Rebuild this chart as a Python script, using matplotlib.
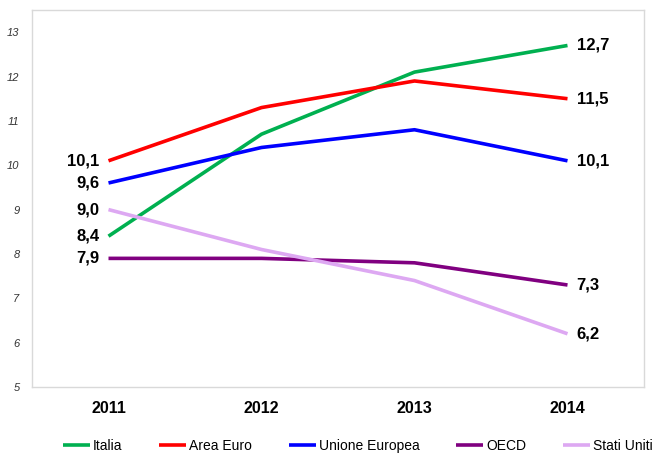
import matplotlib
matplotlib.use("Agg")
import matplotlib.pyplot as plt

plt.rcParams['font.family'] = ['Liberation Sans', 'DejaVu Sans']

years = ['2011', '2012', '2013', '2014']
italia = [8.4, 10.7, 12.1, 12.7]
area_euro = [10.1, 11.3, 11.9, 11.5]
unione_europea = [9.6, 10.4, 10.8, 10.1]
oecd = [7.9, 7.9, 7.8, 7.3]
stati_uniti = [9.0, 8.1, 7.4, 6.2]

series = [
    ('Italia', italia, '#00B050'),
    ('Area Euro', area_euro, '#FF0000'),
    ('Unione Europea', unione_europea, '#0000FF'),
    ('OECD', oecd, '#800080'),
    ('Stati Uniti', stati_uniti, '#DDA8F2'),
]

fig = plt.figure(figsize=(6.52, 4.57), dpi=100)
ax = fig.add_axes([32 / 652, 1 - 387 / 457, 612 / 652, 377 / 457])

x = list(range(len(years)))
for name, vals, col in series:
    ax.plot(x, vals, color=col, linewidth=2.6, label=name, solid_capstyle='butt')
    ax.text(x[0] - 0.06, vals[0], f"{vals[0]:.1f}".replace('.', ','),
            ha='right', va='center', fontsize=12, fontweight='bold')
    ax.text(x[-1] + 0.06, vals[-1], f"{vals[-1]:.1f}".replace('.', ','),
            ha='left', va='center', fontsize=12, fontweight='bold')

ax.set_xlim(-0.5, 3.5)
ax.set_ylim(5, 13.5)
ax.set_yticks(range(5, 14))
ax.set_xticks(x)
ax.set_xticklabels(years, fontsize=11.5, fontweight='bold')
ax.tick_params(axis='x', length=0, pad=10)
ax.tick_params(axis='y', length=0, pad=9, labelsize=8)
for lbl in ax.get_yticklabels():
    lbl.set_fontstyle('italic')
    lbl.set_color('#333333')
for sp in ax.spines.values():
    sp.set_color('#D9D9D9')
    sp.set_linewidth(1)

fig.legend(loc='center left', bbox_to_anchor=(63 / 652, 1 - 446 / 457), ncol=5,
           frameon=False, fontsize=10, handlelength=1.95, handletextpad=0.2,
           columnspacing=2.65, borderpad=0, borderaxespad=0)

fig.savefig('out.png', dpi=100)
